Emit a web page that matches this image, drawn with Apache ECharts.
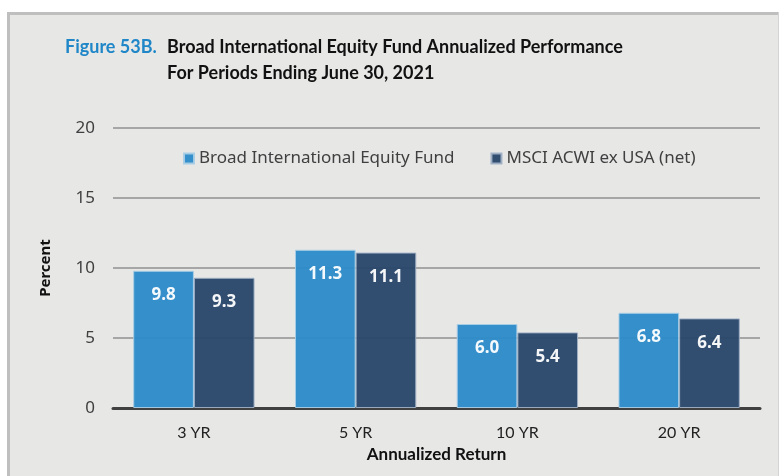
<!DOCTYPE html>
<html>
<head>
<meta charset="utf-8">
<style>
  html, body { margin: 0; padding: 0; background: #ffffff; }
  #chart { width: 780px; height: 476px; }
</style>
<script src="https://cdn.jsdelivr.net/npm/echarts@6/dist/echarts.min.js"></script>
</head>
<body>
<div id="chart"></div>
<script>
// Annualized returns for periods ending June 30, 2021
const periods = ['3 YR', '5 YR', '10 YR', '20 YR'];
const fundReturns = [9.8, 11.3, 6.0, 6.8];
const benchmarkReturns = [9.3, 11.1, 5.4, 6.4];
const seriesNames = ['Broad International Equity Fund', 'MSCI ACWI ex USA (net)'];
const yTicks = { min: 0, max: 20, interval: 5 };

const bodyFont = '"Noto Sans", "Open Sans", sans-serif';
const narrowFont = 'Lato, "Liberation Sans", sans-serif';

const chart = echarts.init(document.getElementById('chart'), null, { renderer: 'canvas' });

const valueLabel = {
  show: true,
  position: 'insideTop',
  distance: 16,
  color: '#ffffff',
  fontFamily: bodyFont,
  fontWeight: 'bold',
  fontSize: 17,
  formatter: p => p.value.toFixed(1)
};

chart.setOption({
  backgroundColor: '#ffffff',
  animation: false,
  graphic: [
    // panel background with heavier top/left edge
    { type: 'rect', z: -10, silent: true,
      shape: { x: 7, y: 12, width: 772, height: 470 },
      style: { fill: '#e7e7e6', stroke: null } },
    { type: 'rect', z: -9, silent: true,
      shape: { x: 7, y: 12, width: 772, height: 3 },
      style: { fill: '#bfbfbf' } },
    { type: 'rect', z: -9, silent: true,
      shape: { x: 7, y: 12, width: 3, height: 470 },
      style: { fill: '#bfbfbf' } },
    { type: 'rect', z: -9, silent: true,
      shape: { x: 778, y: 12, width: 1, height: 470 },
      style: { fill: '#d4d4d4' } }
  ],
  title: [
    {
      text: 'Figure 53B.',
      left: 60, top: 29,
      textStyle: { color: '#1f86c8', fontFamily: narrowFont, fontWeight: 'bold', fontSize: 18, lineHeight: 26 }
    },
    {
      text: 'Broad International Equity Fund Annualized Performance\nFor Periods Ending June 30, 2021',
      left: 162, top: 29,
      textStyle: { color: '#111111', fontFamily: narrowFont, fontWeight: 'bold', fontSize: 18, lineHeight: 26 }
    }
  ],
  legend: {
    data: seriesNames,
    left: 178,
    top: 145,
    itemWidth: 10,
    itemHeight: 10,
    itemGap: 36,
    icon: 'rect',
    textStyle: { color: '#404040', fontFamily: bodyFont, fontSize: 17 }
  },
  grid: { left: 113, right: 20, top: 128, bottom: 68 },
  xAxis: {
    type: 'category',
    data: periods,
    name: 'Annualized Return',
    nameLocation: 'middle',
    nameGap: 37,
    nameTextStyle: { color: '#111111', fontFamily: narrowFont, fontWeight: 'bold', fontSize: 17 },
    axisLine: { lineStyle: { color: '#404040', width: 3 } },
    axisTick: { show: false },
    axisLabel: { color: '#222222', fontFamily: narrowFont, fontSize: 16, margin: 17 }
  },
  yAxis: {
    type: 'value',
    min: yTicks.min, max: yTicks.max, interval: yTicks.interval,
    name: 'Percent',
    nameLocation: 'middle',
    nameGap: 60,
    nameRotate: 90,
    nameTextStyle: { color: '#111111', fontFamily: bodyFont, fontWeight: 'bold', fontSize: 15 },
    axisLine: { show: false },
    axisTick: { show: false },
    axisLabel: { color: '#404040', fontFamily: bodyFont, fontSize: 17, margin: 18 },
    splitLine: { lineStyle: { color: '#a6a6a6', width: 2 } }
  },
  series: [
    {
      name: seriesNames[0],
      type: 'bar',
      data: fundReturns,
      barGap: '0%',
      barCategoryGap: '25%',
      itemStyle: { color: '#2a8ac8', borderColor: '#a9cde6', borderWidth: 1, opacity: 0.95 },
      label: valueLabel
    },
    {
      name: seriesNames[1],
      type: 'bar',
      data: benchmarkReturns,
      barGap: '0%',
      barCategoryGap: '25%',
      itemStyle: { color: '#274569', borderColor: '#9fb0c4', borderWidth: 1, opacity: 0.95 },
      label: valueLabel
    }
  ]
});
</script>
</body>
</html>
